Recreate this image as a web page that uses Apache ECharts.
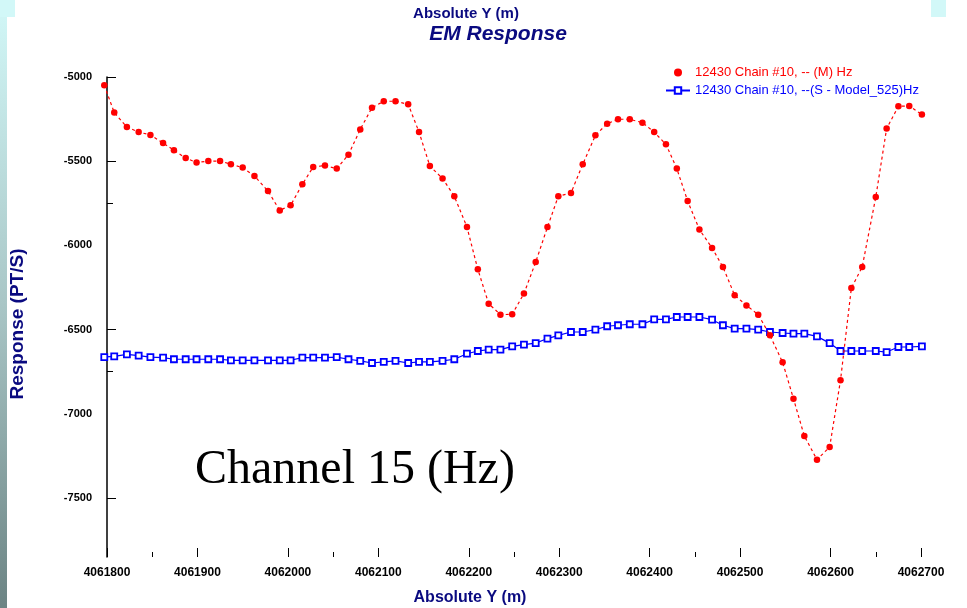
<!DOCTYPE html>
<html>
<head>
<meta charset="utf-8">
<script src="https://cdn.jsdelivr.net/npm/echarts@6/dist/echarts.min.js"></script>
<style>
html,body{margin:0;padding:0;background:#ffffff;}
#chart{width:967px;height:608px;}
</style>
</head>
<body>
<div id="chart"></div>
<script>
// Station positions (Absolute Y, m)
var positions = [4061797,4061808,4061822,4061835,4061848,4061862,4061874,4061887,4061899,4061912,
  4061925,4061937,4061950,4061963,4061978,4061991,4062003,4062016,4062028,4062041,
  4062054,4062067,4062080,4062093,4062106,4062119,4062133,4062145,4062157,4062171,
  4062184,4062198,4062210,4062222,4062235,4062248,4062261,4062274,4062287,4062299,
  4062313,4062326,4062340,4062353,4062365,4062378,4062392,4062405,4062418,4062430,
  4062442,4062455,4062469,4062481,4062494,4062507,4062520,4062533,4062547,4062559,
  4062571,4062585,4062599,4062611,4062623,4062635,4062650,4062662,4062675,4062687,
  4062701];
// Measured response (PT/S)
var measured = [-5049,-5211,-5297,-5327,-5344,-5392,-5435,-5481,-5508,-5499,
  -5499,-5518,-5538,-5588,-5677,-5792,-5762,-5637,-5534,-5526,
  -5544,-5461,-5311,-5182,-5144,-5144,-5162,-5327,-5529,-5603,
  -5708,-5891,-6142,-6346,-6411,-6409,-6286,-6099,-5891,-5708,
  -5689,-5518,-5346,-5277,-5251,-5251,-5271,-5327,-5400,-5544,
  -5736,-5906,-6015,-6128,-6296,-6356,-6411,-6534,-6694,-6910,
  -7132,-7272,-7197,-6801,-6253,-6128,-5713,-5306,-5174,-5172,
  -5223];
// Modelled response (PT/S)
var modelled = [-6663,-6659,-6647,-6654,-6663,-6666,-6676,-6676,-6676,-6676,
  -6676,-6682,-6682,-6682,-6682,-6682,-6682,-6666,-6666,-6666,
  -6663,-6676,-6686,-6698,-6692,-6686,-6698,-6692,-6692,-6686,
  -6676,-6643,-6627,-6619,-6619,-6599,-6589,-6580,-6553,-6534,
  -6514,-6514,-6500,-6480,-6474,-6468,-6468,-6439,-6439,-6425,
  -6425,-6425,-6441,-6474,-6494,-6494,-6500,-6514,-6520,-6524,
  -6524,-6540,-6580,-6627,-6627,-6627,-6627,-6633,-6603,-6603,
  -6599];
var xTicks = [4061800,4061900,4062000,4062100,4062200,4062300,4062400,4062500,4062600,4062700];
var xMinorTicks = [4061850,4062050,4062250,4062450,4062650];
var yLabels = [-5000,-5500,-6000,-6500,-7000,-7500];
var yTicks = [-5000,-5500,-6500,-7500];
var yMinorTicks = [-5750,-6750];
var nameMeasured = '12430 Chain #10, -- (M) Hz';
var nameModel = '12430 Chain #10, --(S - Model_525)Hz';

function pairs(xs, ys){ return xs.map(function(x,i){ return [x, ys[i]]; }); }

var navy = '#0a0a80';
var chart = echarts.init(document.getElementById('chart'), null, {renderer:'canvas'});
var lblStyle = {color:'#000', fontSize:12, fontWeight:'bold', fontFamily:'Liberation Sans, Arial, sans-serif'};
chart.setOption({
  animation:false,
  backgroundColor:'#ffffff',
  grid:{left:107, top:77, right:46, bottom:51, containLabel:false},
  xAxis:[{
    type:'value', min:4061800, max:4062700,
    axisLine:{show:false},
    splitLine:{show:false},
    axisTick:{show:true, inside:true, length:9, customValues:xTicks, lineStyle:{color:'#000', width:1}},
    axisLabel:{customValues:xTicks, margin:10, formatter:function(v){return String(v);}, color:lblStyle.color, fontSize:lblStyle.fontSize, fontWeight:lblStyle.fontWeight, fontFamily:lblStyle.fontFamily}
  },{
    type:'value', min:4061800, max:4062700, position:'bottom',
    axisLine:{show:false}, splitLine:{show:false}, axisLabel:{show:false},
    axisTick:{show:true, inside:true, length:5, customValues:xMinorTicks, lineStyle:{color:'#000', width:1}}
  }],
  yAxis:[{
    type:'value', min:-7850, max:-5000,
    axisLine:{show:true, lineStyle:{color:'#000', width:1.5}},
    splitLine:{show:false},
    axisTick:{show:true, inside:true, length:9, customValues:yTicks, lineStyle:{color:'#000', width:1}},
    axisLabel:{customValues:yLabels, margin:15, formatter:function(v){return String(v);}, color:lblStyle.color, fontSize:11, fontWeight:lblStyle.fontWeight, fontFamily:lblStyle.fontFamily}
  },{
    type:'value', min:-7850, max:-5000, position:'left', offset:0,
    axisLine:{show:false}, splitLine:{show:false}, axisLabel:{show:false},
    axisTick:{show:true, inside:true, length:6, customValues:yMinorTicks, lineStyle:{color:'#000', width:1}}
  }],
  legend:{
    orient:'vertical', left:660, top:61, itemGap:5, itemWidth:24, itemHeight:8,
    textStyle:{fontSize:13, fontFamily:'Liberation Sans, Arial, sans-serif'},
    data:[
      {name:nameMeasured, icon:'circle', textStyle:{color:'#ff0000'}},
      {name:nameModel, textStyle:{color:'#0000ff'}}
    ]
  },
  series:[{
    name:nameModel, type:'line', xAxisIndex:0, yAxisIndex:0, clip:false,
    data:pairs(positions, modelled),
    symbol:'rect', symbolSize:6,
    itemStyle:{color:'#ffffff', borderColor:'#0000ff', borderWidth:1.8},
    lineStyle:{color:'#0000ff', width:1.2},
    z:2
  },{
    name:nameMeasured, type:'line', xAxisIndex:0, yAxisIndex:0, clip:false,
    data:pairs(positions, measured),
    symbol:'circle', symbolSize:6.5,
    itemStyle:{color:'#ff0000', borderColor:'#ff0000', borderWidth:0},
    lineStyle:{color:'#ff0000', width:1.2, type:[3,3]},
    z:3
  }],
  graphic:[
    {type:'rect', shape:{x:0,y:0,width:7,height:608}, silent:true, z:-1,
     style:{fill:new echarts.graphic.LinearGradient(0,0,0,1,[{offset:0,color:'#d2f8f8'},{offset:0.5,color:'#a9c6c6'},{offset:1,color:'#6c8484'}])}},
    {type:'rect', shape:{x:0,y:0,width:15,height:17}, silent:true, z:-1, style:{fill:'#d2f8f8'}},
    {type:'rect', shape:{x:931,y:0,width:15,height:17}, silent:true, z:-1, style:{fill:'#d2f8f8'}},
    {type:'text', x:466, y:14, style:{text:'Absolute Y (m)', fill:navy, font:'bold 15px "Liberation Sans", Arial, sans-serif', textAlign:'center', textVerticalAlign:'middle'}},
    {type:'text', x:498, y:34, style:{text:'EM Response', fill:navy, font:'italic bold 21px "Liberation Sans", Arial, sans-serif', textAlign:'center', textVerticalAlign:'middle'}},
    {type:'text', x:470, y:598, style:{text:'Absolute Y (m)', fill:navy, font:'bold 16px "Liberation Sans", Arial, sans-serif', textAlign:'center', textVerticalAlign:'middle'}},
    {type:'text', x:18, y:324, rotation:Math.PI/2, style:{text:'Response (PT/S)', fill:navy, font:'bold 19px "Liberation Sans", Arial, sans-serif', textAlign:'center', textVerticalAlign:'middle'}},
    {type:'text', x:195, y:470, style:{text:'Channel 15 (Hz)', fill:'#000', font:'48px "Liberation Serif", "Times New Roman", serif', textAlign:'left', textVerticalAlign:'middle'}}
  ]
});
</script>
</body>
</html>
